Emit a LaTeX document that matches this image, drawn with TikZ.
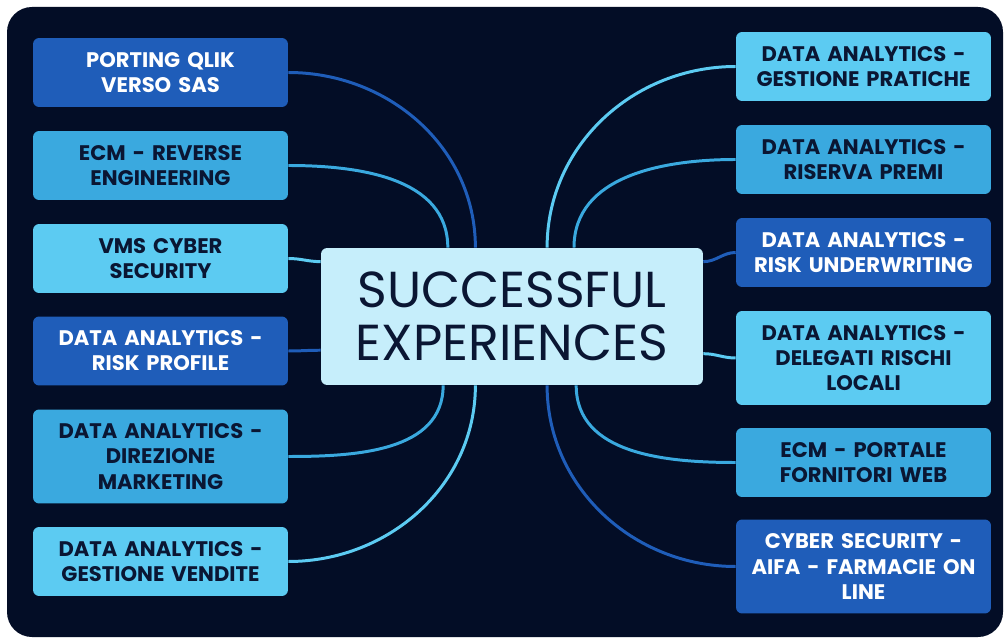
\documentclass[tikz,border=0pt]{standalone}
\usepackage{fontspec}
\setmainfont{Poppins}
\usepackage{xcolor}
\definecolor{navy}{HTML}{030D26}
\definecolor{deepblue}{HTML}{1F5DB9}
\definecolor{midblue}{HTML}{3AA9DF}
\definecolor{skyblue}{HTML}{5CCBF2}
\definecolor{paleblue}{HTML}{C6EEFB}
\definecolor{inkblue}{HTML}{0A1633}

\begin{document}
\begin{tikzpicture}[x=0.02cm, y=-0.02cm,
    tema/.style={rectangle, rounded corners=3.5pt, minimum width=5.1cm, minimum height=1.38cm, text width=5cm, align=center, inner sep=0pt, font=\bfseries\fontsize{12}{14.3}\selectfont},
    scuro/.style={tema, fill=deepblue, text=white},
    medio/.style={tema, fill=midblue, text=inkblue},
    chiaro/.style={tema, fill=skyblue, text=inkblue},
    alto/.style={minimum height=1.88cm},
    ramo/.style={line width=1.7pt}]

\useasboundingbox (0,0) rectangle (1004,638);
\fill[white] (0,0) rectangle (1004,638);
\fill[navy, rounded corners=0.5cm] (7,7) rectangle (1003,637);

\node [fill=paleblue, rounded corners=3.5pt, minimum width=7.64cm, minimum height=2.74cm, text=inkblue, align=center, font=\fontsize{28.8}{30.5}\selectfont] (C) at (512,316.5) {SUCCESSFUL\\EXPERIENCES};

\node [scuro] (L1) at (160.5,72.5) {PORTING QLIK\\VERSO SAS};
\node [medio] (L2) at (160.5,165.5) {ECM - REVERSE\\ENGINEERING};
\node [chiaro] (L3) at (160.5,258.5) {VMS CYBER\\SECURITY};
\node [scuro] (L4) at (160.5,351) {DATA ANALYTICS -\\RISK PROFILE};
\node [medio, alto] (L5) at (160.5,456.5) {DATA ANALYTICS -\\DIREZIONE\\MARKETING};
\node [chiaro] (L6) at (160.5,561.5) {DATA ANALYTICS -\\GESTIONE VENDITE};

\node [chiaro] (R1) at (863.5,66.5) {DATA ANALYTICS -\\GESTIONE PRATICHE};
\node [medio] (R2) at (863.5,159.5) {DATA ANALYTICS -\\RISERVA PREMI};
\node [scuro] (R3) at (863.5,252.5) {DATA ANALYTICS -\\RISK UNDERWRITING};
\node [chiaro, alto] (R4) at (863.5,358) {DATA ANALYTICS -\\DELEGATI RISCHI\\LOCALI};
\node [medio] (R5) at (863.5,462.5) {ECM - PORTALE\\FORNITORI WEB};
\node [scuro, alto] (R6) at (863.5,566.5) {CYBER SECURITY -\\AIFA - FARMACIE ON\\LINE};

\draw[ramo, deepblue] (L1.east) to[out=0, in=90] (C.118);
\draw[ramo, midblue] (L2.east) to[out=0, in=90] (C.133);
\draw[ramo, skyblue] (L3.east) to[out=0, in=180] (C.164);
\draw[ramo, deepblue] (L4.east) to[out=0, in=180] (C.190);
\draw[ramo, midblue] (L5.east) to[out=0, in=-90] (C.225);
\draw[ramo, skyblue] (L6.east) to[out=0, in=-90] (C.242);
\draw[ramo, skyblue] (R1.west) to[out=180, in=90] (C.63);
\draw[ramo, midblue] (R2.west) to[out=180, in=90] (C.48);
\draw[ramo, deepblue] (R3.west) to[out=180, in=0] (C.16);
\draw[ramo, skyblue] (R4.west) to[out=180, in=0] (C.349);
\draw[ramo, midblue] (R5.west) to[out=180, in=-90] (C.313);
\draw[ramo, deepblue] (R6.west) to[out=180, in=-90] (C.297);
\end{tikzpicture}
\end{document}
